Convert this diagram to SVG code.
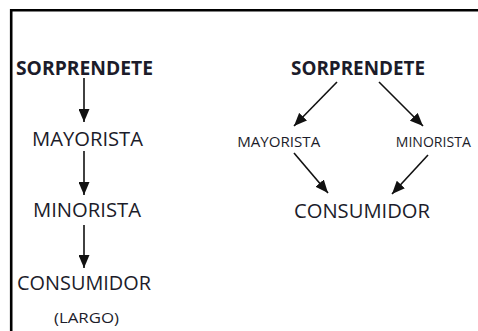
<svg xmlns="http://www.w3.org/2000/svg" width="478" height="331" viewBox="0 0 478 331">
<defs>
<marker id="ah" markerUnits="userSpaceOnUse" markerWidth="13" markerHeight="11" refX="13" refY="5.5" orient="auto">
<path d="M0,0 L13,5.5 L0,11 z" fill="#111"/>
</marker>
<style>
.t{font-family:"Open Sans","Liberation Sans",sans-serif;fill:#1c1c2a;text-anchor:middle}
.b{font-weight:bold}
.c{stroke:#111;stroke-width:1.6;fill:none;marker-end:url(#ah)}
</style>
</defs>
<rect width="478" height="331" fill="#fff"/>
<path d="M11.2,331 V10.2 H478" fill="none" stroke="#000" stroke-width="2.6"/>
<g id="connectors">
<line class="c" x1="84" y1="78" x2="84" y2="122"/>
<line class="c" x1="84" y1="151" x2="84" y2="195"/>
<line class="c" x1="84" y1="225" x2="84" y2="268"/>
<line class="c" x1="337" y1="82" x2="294" y2="126"/>
<line class="c" x1="379" y1="82" x2="423" y2="126"/>
<line class="c" x1="294" y1="153" x2="328" y2="193"/>
<line class="c" x1="428" y1="155" x2="392" y2="194"/>
</g>
<g id="l-sorprendete"><text class="t b" x="84.5" y="75" font-size="20" textLength="137" lengthAdjust="spacingAndGlyphs">SORPRENDETE</text></g>
<g id="l-mayorista"><text class="t" x="87.5" y="146" font-size="20" textLength="111" lengthAdjust="spacingAndGlyphs">MAYORISTA</text></g>
<g id="l-minorista"><text class="t" x="87" y="217" font-size="20" textLength="108" lengthAdjust="spacingAndGlyphs">MINORISTA</text></g>
<g id="l-consumidor"><text class="t" x="84" y="290" font-size="20" textLength="134" lengthAdjust="spacingAndGlyphs">CONSUMIDOR</text></g>
<g id="l-largo"><text class="t" x="86.5" y="323" font-size="15" textLength="65" lengthAdjust="spacingAndGlyphs">(LARGO)</text></g>
<g id="r-sorprendete"><text class="t b" x="358" y="75" font-size="20" textLength="134" lengthAdjust="spacingAndGlyphs">SORPRENDETE</text></g>
<g id="r-mayorista"><text class="t" x="278.7" y="146.7" font-size="14.5" textLength="83" lengthAdjust="spacingAndGlyphs">MAYORISTA</text></g>
<g id="r-minorista"><text class="t" x="433.3" y="146.7" font-size="14.5" textLength="75" lengthAdjust="spacingAndGlyphs">MINORISTA</text></g>
<g id="r-consumidor"><text class="t" x="362" y="218.3" font-size="20" textLength="136" lengthAdjust="spacingAndGlyphs">CONSUMIDOR</text></g>
</svg>
